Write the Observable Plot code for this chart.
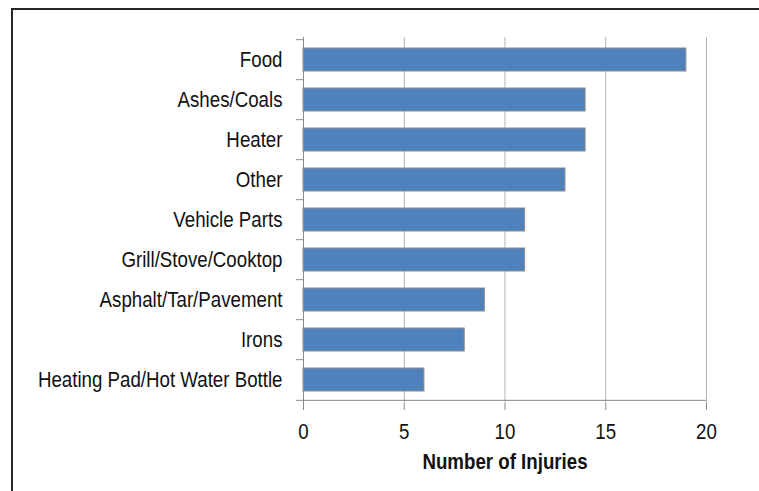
<!DOCTYPE html>
<html>
<head>
<meta charset="utf-8">
<script src="https://cdn.jsdelivr.net/npm/d3@7"></script>
<script src="https://cdn.jsdelivr.net/npm/@observablehq/plot@0.6"></script>
<style>
  html, body { margin: 0; padding: 0; background: #fff; overflow: hidden; }
  #wrap { position: relative; width: 759px; height: 491px; }
  #border { position: absolute; left: 11px; top: 8px; width: 900px; height: 700px;
            border-top: 2px solid #262626; border-left: 2px solid #262626; pointer-events: none; }
</style>
</head>
<body>
<div id="wrap"><div id="chart"></div><div id="border"></div></div>
<script>
const categories = ["Food", "Ashes/Coals", "Heater", "Other", "Vehicle Parts", "Grill/Stove/Cooktop", "Asphalt/Tar/Pavement", "Irons", "Heating Pad/Hot Water Bottle"];
const injuries = [19, 14, 14, 13, 11, 11, 9, 8, 6];
const xTicks = [0, 5, 10, 15, 20];
const xTitle = "Number of Injuries";

const data = categories.map((c, i) => ({category: c, value: injuries[i]}));

const W = 759, H = 491;
const mL = 303, mR = 53, mT = 37, mB = 88;
const step = (H - mT - mB) / categories.length;
const axisGray = "#8a8a8a";
const textColor = "#111111";
const font = "'Liberation Sans Narrow', 'Arial Narrow', 'Liberation Sans', Arial, sans-serif";
const fs = 22;
const narrow = 0.85; // horizontal condensing to mimic a narrow face

const chart = Plot.plot({
  width: W,
  height: H,
  marginLeft: mL,
  marginRight: mR,
  marginTop: mT,
  marginBottom: mB,
  style: {fontFamily: font, fontSize: fs + "px", color: textColor, background: "transparent"},
  x: {domain: [xTicks[0], xTicks[xTicks.length - 1]], label: null},
  y: {domain: categories, paddingInner: 0.42, paddingOuter: 0.21, label: null},
  marks: [
    Plot.gridX(xTicks.filter(v => v > 0), {stroke: "#b3b3b3", strokeOpacity: 1, strokeWidth: 1}),
    Plot.barX(data, {x: "value", y: "category", fill: "#4f81bd", stroke: "#8c8c8c", strokeWidth: 1}),
    Plot.ruleX([xTicks[0]], {stroke: axisGray, strokeWidth: 1}),
    Plot.axisY({tickSize: 7, fill: "none", stroke: axisGray, dy: -step / 2, label: null}),
    Plot.axisY([categories[categories.length - 1]], {tickSize: 7, fill: "none", stroke: axisGray, dy: step / 2, label: null}),
    Plot.ruleY([categories[categories.length - 1]], {dy: step / 2, stroke: axisGray, strokeWidth: 1}),
    Plot.axisY({tickSize: 0, tickPadding: 21, fill: textColor, label: null, fontSize: fs}),
    Plot.axisX({ticks: xTicks, tickSize: 7, tickPadding: 13, stroke: axisGray, fill: textColor, label: null, fontSize: fs}),
    Plot.text([xTitle], {text: d => d, frameAnchor: "bottom", dy: 58, lineAnchor: "middle", fontWeight: "bold", fontSize: fs, fill: textColor})
  ]
});

document.getElementById("chart").appendChild(chart);

// condense all text horizontally (mimics a narrow typeface) while keeping anchors
chart.querySelectorAll("text").forEach(t => {
  const len = t.getComputedTextLength();
  if (len > 0) {
    t.setAttribute("textLength", (len * narrow).toFixed(2));
    t.setAttribute("lengthAdjust", "spacingAndGlyphs");
  }
});
</script>
</body>
</html>
